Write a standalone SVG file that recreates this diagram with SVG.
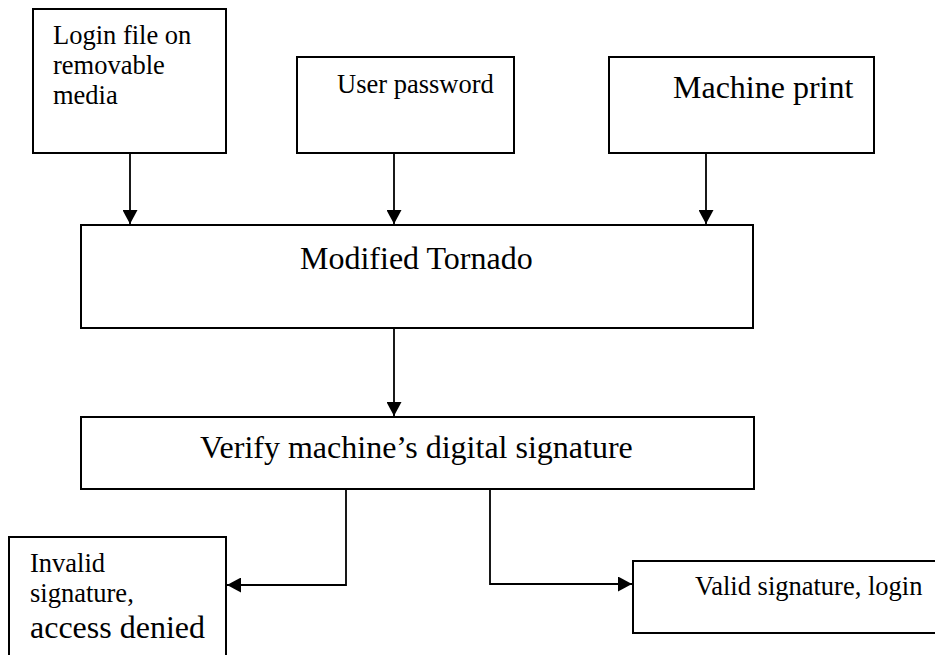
<svg xmlns="http://www.w3.org/2000/svg" width="935" height="655" viewBox="0 0 935 655">
<defs>
<marker id="ah" viewBox="0 0 14 15" refX="14" refY="7.5" markerWidth="14" markerHeight="15" markerUnits="userSpaceOnUse" orient="auto">
<path d="M0,0 L14,7.5 L0,15 Z" fill="#000"/>
</marker>
</defs>
<style>
rect{fill:#fff;stroke:#000;stroke-width:2}
text{fill:#000}
.s{font-size:26.5px}
.l{font-size:32px}
.c{fill:none;stroke:#000;stroke-width:1.8;marker-end:url(#ah)}
</style>
<rect x="0" y="0" width="935" height="655" style="fill:#fff;stroke:none"/>
<g font-family="'Liberation Serif', 'Times New Roman', 'DejaVu Serif', serif">
<g id="n-login">
<rect x="33" y="9" width="193" height="144"/>
<text class="s" x="53" y="44">Login file on</text>
<text class="s" x="53" y="74">removable</text>
<text class="s" x="53" y="104">media</text>
</g>
<g id="n-password">
<rect x="297" y="57" width="217" height="96"/>
<text class="s" x="337" y="93">User password</text>
</g>
<g id="n-machine">
<rect x="609" y="57" width="265" height="96"/>
<text class="l" x="673" y="98">Machine print</text>
</g>
<g id="n-tornado">
<rect x="81" y="225" width="672" height="103"/>
<text class="l" x="300" y="269">Modified Tornado</text>
</g>
<g id="n-verify">
<rect x="81" y="417" width="673" height="72"/>
<text class="l" x="200" y="458">Verify machine’s digital signature</text>
</g>
<g id="n-invalid">
<rect x="9" y="537" width="217" height="130"/>
<text class="s" x="30" y="572">Invalid</text>
<text class="s" x="30" y="602">signature,</text>
<text class="l" x="30" y="638">access denied</text>
</g>
<g id="n-valid">
<rect x="633" y="561" width="310" height="72"/>
<text class="s" x="695" y="595">Valid signature, login</text>
</g>
</g>
<g id="connectors">
<path class="c" d="M130,153 V224"/>
<path class="c" d="M394,153 V224"/>
<path class="c" d="M706,153 V224"/>
<path class="c" d="M394,328 V416"/>
<path class="c" d="M346,489 V585 H227"/>
<path class="c" d="M490,489 V584 H632"/>
</g>
</svg>
